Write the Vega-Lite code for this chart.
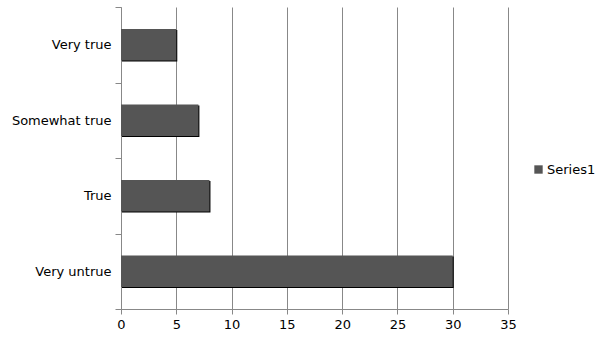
{
  "$schema": "https://vega.github.io/schema/vega-lite/v6.json",
  "width": 387,
  "height": 302,
  "autosize": "none",
  "padding": {"left": 121, "top": 7, "right": 97, "bottom": 31},
  "background": "white",
  "data": {"values": [
    {"category": "Very true", "value": 5, "series": "Series1"},
    {"category": "Somewhat true", "value": 7, "series": "Series1"},
    {"category": "True", "value": 8, "series": "Series1"},
    {"category": "Very untrue", "value": 30, "series": "Series1"}
  ]},
  "encoding": {
    "y": {"field": "category", "type": "nominal", "sort": ["Very true", "Somewhat true", "True", "Very untrue"],
      "scale": {"paddingInner": 0, "paddingOuter": 0},
      "axis": {"title": null, "tickBand": "extent", "domainColor": "#888", "tickColor": "#888", "tickSize": 6, "labelPadding": 4, "labelFontSize": 13, "labelFont": "DejaVu Sans", "labelColor": "#000", "grid": false}},
    "x": {"field": "value", "type": "quantitative", "scale": {"domain": [0, 35], "nice": false},
      "axis": {"title": null, "values": [0,5,10,15,20,25,30,35], "domainColor": "#888", "tickColor": "#888", "tickSize": 5, "labelPadding": 4, "labelFontSize": 13, "labelFont": "DejaVu Sans", "labelColor": "#000", "gridColor": "#888", "gridOpacity": 1, "labelFlush": false}}
  },
  "layer": [
    {"mark": {"type": "bar", "color": "#000", "xOffset": 1, "yOffset": 1, "height": {"band": 0.42}}},
    {"mark": {"type": "bar", "height": {"band": 0.42}, "color": {"gradient": "linear", "x1": 0, "y1": 0, "x2": 0, "y2": 1, "stops": [{"offset": 0, "color": "#5e5e5e"}, {"offset": 1, "color": "#464646"}]}},
     "encoding": {"color": {"field": "series", "type": "nominal", "scale": {"range": ["#555555"]},
       "legend": {"title": null, "orient": "none", "legendX": 411, "legendY": 156, "symbolType": "square", "symbolSize": 70, "labelFontSize": 13, "labelFont": "DejaVu Sans", "labelColor": "#000", "labelOffset": 2}}}}
  ],
  "config": {"view": {"stroke": null}, "axis": {"gridWidth": 1, "domainWidth": 1}}
}
